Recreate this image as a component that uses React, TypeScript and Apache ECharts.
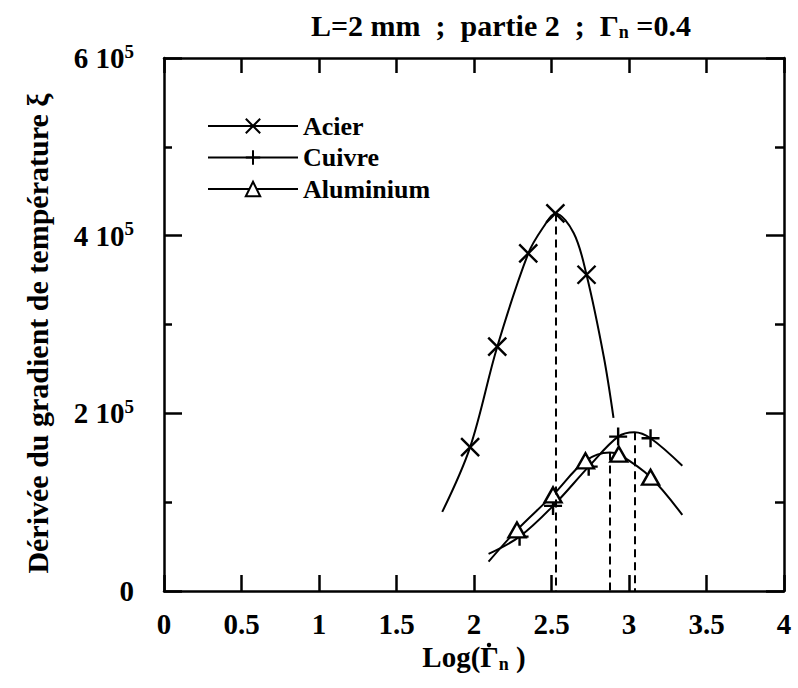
import React, { useEffect, useRef } from 'react';
import * as echarts from 'echarts';

const FONT = '"Liberation Serif", "Times New Roman", Times, serif';
const W = 'bold';

// Curve points [log(Γn), ξ]; marks flag the plotted symbols
const acierPts: [number, number][] = [
  [1.795, 89000], [1.975, 162000], [2.15, 275000], [2.35, 380000], [2.449, 410000],
  [2.525, 425000], [2.643, 403000], [2.726, 356000], [2.837, 264000], [2.9, 195000],
];
const acierMarks = [0, 1, 1, 1, 0, 1, 0, 1, 0, 0];

const cuivrePts: [number, number][] = [
  [2.094, 41700], [2.294, 61200], [2.51, 95800], [2.74, 140000], [2.93, 173800],
  [3.035, 178800], [3.139, 172000], [3.344, 141000],
];
const cuivreMarks = [0, 1, 1, 1, 1, 0, 1, 0];

const aluPts: [number, number][] = [
  [2.094, 33000], [2.277, 68700], [2.51, 108200], [2.719, 146500], [2.876, 156000],
  [2.934, 154000], [3.139, 128100], [3.344, 85600],
];
const aluMarks = [0, 1, 1, 1, 0, 1, 1, 0];

const seriesNames = ['Acier', 'Cuivre', 'Aluminium'];
const xTickStep = 0.5;
const yTickStep = 200000;

const SYM_X = 'path://M0,0L10,10M0,10L10,0';
const SYM_PLUS = 'path://M5,0L5,10M0,5L10,5';

function peakOf(pts: [number, number][]) {
  let best = pts[0];
  pts.forEach((p) => { if (p[1] > best[1]) best = p; });
  return best;
}

function buildSeries(name: string, pts: [number, number][], marks: number[], symbol: string, symbolSize: any, fill: string) {
  const pk = peakOf(pts);
  return {
    name,
    type: 'line',
    smooth: 0.35,
    symbol,
    symbolSize,
    showSymbol: true,
    showAllSymbol: true,
    data: pts.map((p, i) => (marks[i] ? { value: p } : { value: p, symbol: 'none' })),
    lineStyle: { color: '#000', width: 2 },
    itemStyle: { color: fill, borderColor: '#000', borderWidth: 2.4 },
    emphasis: { disabled: true },
    markLine: {
      silent: true,
      symbol: ['none', 'none'],
      label: { show: false },
      lineStyle: { color: '#000', width: 2, type: [8, 5] },
      data: [[{ coord: [pk[0], pk[1]] }, { coord: [pk[0], 0] }]],
    },
    z: 3,
  };
}

export default function App() {
  const ref = useRef<HTMLDivElement>(null);
  useEffect(() => {
    if (!ref.current) return;
    const chart = echarts.init(ref.current, null, { renderer: 'svg' });
    const axisLine = { show: true, onZero: false, lineStyle: { color: '#000', width: 2.5 } };
    const tickStyle = { color: '#000', width: 2.5 };
    const option: any = {
      animation: false,
      backgroundColor: '#fff',
      textStyle: { fontFamily: FONT, color: '#000' },
      title: {
        text: '{a|L=2 mm  ;  partie 2  ;  Γ}{s|n}{a| =0.4}',
        left: 306,
        top: 4,
        textStyle: {
          rich: {
            a: { fontFamily: FONT, fontSize: 30, fontWeight: W, color: '#000' },
            s: { fontFamily: FONT, fontSize: 18, fontWeight: W, color: '#000', padding: [14, 0, 0, 0] },
          },
        },
      },
      legend: {
        data: seriesNames,
        orient: 'vertical',
        left: 207,
        top: 113,
        padding: 0,
        itemWidth: 90,
        itemHeight: 18,
        itemGap: 5.5,
        selectedMode: false,
        textStyle: { fontFamily: FONT, fontSize: 26, fontWeight: W, color: '#000' },
      },
      grid: { left: 164, right: 14, top: 58, bottom: 97 },
      // dot over Γ in the x-axis name (time derivative)
      graphic: [
        { type: 'circle', shape: { cx: 489, cy: 645, r: 2.2 }, style: { fill: '#000' }, silent: true },
      ],
      xAxis: [
        {
          type: 'value',
          min: 0,
          max: 4,
          interval: xTickStep,
          position: 'bottom',
          name: '{a|Log(Γ}{s|n}{a| )}',
          nameLocation: 'middle',
          nameGap: 38,
          nameTextStyle: {
            rich: {
              a: { fontFamily: FONT, fontSize: 29, fontWeight: W, color: '#000' },
              s: { fontFamily: FONT, fontSize: 18, fontWeight: W, color: '#000', padding: [14, 0, 0, 0] },
            },
          },
          axisLine,
          axisTick: { show: true, inside: true, length: 16, lineStyle: tickStyle },
          axisLabel: { fontFamily: FONT, fontSize: 29, fontWeight: W, color: '#000', margin: 18, formatter: (v: number) => String(v) },
          splitLine: { show: false },
        },
        {
          type: 'value',
          min: 0,
          max: 4,
          interval: xTickStep,
          position: 'top',
          axisLine,
          axisTick: { show: true, inside: true, length: 15, lineStyle: tickStyle },
          axisLabel: { show: false },
          splitLine: { show: false },
        },
      ],
      yAxis: [
        {
          type: 'value',
          min: 0,
          max: 600000,
          interval: yTickStep,
          position: 'left',
          name: 'Dérivée du gradient de température ξ',
          nameLocation: 'middle',
          nameGap: 112,
          nameRotate: 90,
          nameTextStyle: { fontFamily: FONT, fontSize: 30, fontWeight: W, color: '#000', padding: [0, 18, 0, 0] },
          axisLine,
          axisTick: { show: true, inside: true, length: 18, lineStyle: tickStyle },
          minorTick: { show: true, splitNumber: 2, length: 8, lineStyle: tickStyle },
          axisLabel: {
            margin: 30,
            formatter: (v: number) => (v === 0 ? '{n|0}' : `{n|${v / 100000} 10}{p|5}`),
            rich: {
              n: { fontFamily: FONT, fontSize: 29, fontWeight: W, color: '#000' },
              p: { fontFamily: FONT, fontSize: 19, fontWeight: W, color: '#000', padding: [0, 0, 14, 0] },
            },
          },
          splitLine: { show: false },
          minorSplitLine: { show: false },
        },
        {
          type: 'value',
          min: 0,
          max: 600000,
          interval: yTickStep,
          position: 'right',
          axisLine,
          axisTick: { show: true, inside: true, length: 18, lineStyle: tickStyle },
          minorTick: { show: true, splitNumber: 2, length: 9, lineStyle: tickStyle },
          axisLabel: { show: false },
          splitLine: { show: false },
          minorSplitLine: { show: false },
        },
      ],
      series: [
        buildSeries(seriesNames[0], acierPts, acierMarks, SYM_X, 18, '#000'),
        buildSeries(seriesNames[1], cuivrePts, cuivreMarks, SYM_PLUS, 18, '#000'),
        buildSeries(seriesNames[2], aluPts, aluMarks, 'triangle', [17, 15], '#fff'),
      ],
    };
    chart.setOption(option);
    return () => chart.dispose();
  }, []);
  return <div ref={ref} style={{ position: 'fixed', left: 0, top: 0, width: 798, height: 688, background: '#fff' }} />;
}
